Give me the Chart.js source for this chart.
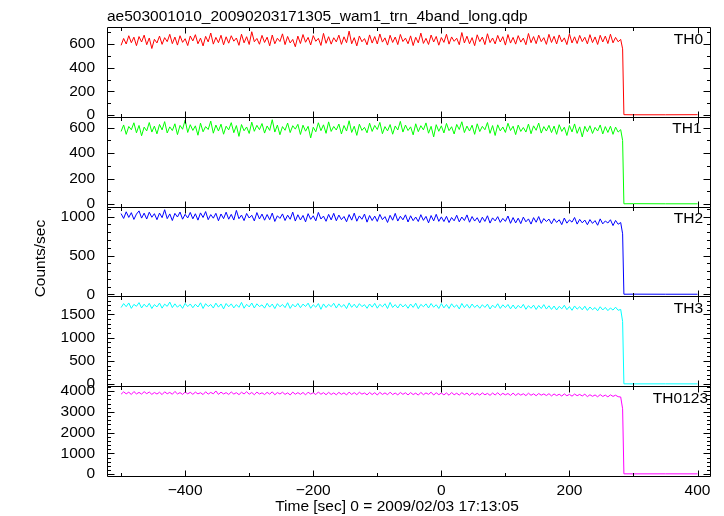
<!DOCTYPE html>
<html>
<head>
<meta charset="utf-8">
<script src="https://cdn.jsdelivr.net/npm/chart.js@4/dist/chart.umd.min.js"></script>
<style>
html, body { margin: 0; padding: 0; background: #fff; }
</style>
</head>
<body>
<canvas id="lc" width="724" height="516"></canvas>
<script>
const FONT = '"Liberation Sans", Arial, Helvetica, sans-serif';

const title = 'ae503001010_20090203171305_wam1_trn_4band_long.qdp';
const xLabel = 'Time [sec] 0 = 2009/02/03 17:13:05';
const yLabel = 'Counts/sec';
const bands = ['TH0', 'TH1', 'TH2', 'TH3', 'TH0123'];
const colors = ['#ff0000', '#00ff00', '#0000ff', '#00ffff', '#ff00ff'];

// 4 s bins from -500 s up to the drop, then a few bins after it
const times = [];
for (let t = -500; t <= 280; t += 4) times.push(t);
const tailTimes = [283, 285, 300, 350, 400];

const th0 = [
  590, 648, 601, 671, 612, 659, 587, 664, 618, 676, 595, 652, 563, 641,
  610, 668, 598, 655, 621, 683, 604, 660, 592, 671, 615, 646, 588, 669,
  627, 680, 603, 651, 585, 666, 619, 694, 600, 657, 612, 675, 594, 662,
  608, 671, 625, 652, 590, 684, 611, 663, 597, 705, 620, 648, 599, 674,
  614, 659, 586, 677, 603, 650, 622, 687, 596, 665, 610, 640, 578, 668,
  605, 681, 616, 657, 593, 672, 624, 649, 589, 691, 607, 663, 600, 654,
  619, 676, 598, 662, 612, 710, 603, 655, 585, 669, 620, 647, 594, 678,
  609, 664, 601, 686, 617, 653, 592, 675, 614, 660, 596, 682, 622, 651,
  603, 670, 588, 658, 611, 693, 606, 649, 597, 677, 618, 665, 591, 656,
  615, 684, 600, 661, 624, 650, 595, 698, 610, 667, 603, 655, 587, 679,
  621, 660, 596, 688, 613, 652, 602, 674, 618, 663, 592, 681, 609, 657,
  600, 672, 617, 651, 595, 690, 612, 664, 604, 676, 621, 655, 598, 683,
  614, 666, 601, 678, 619, 653, 596, 687, 610, 662, 605, 674, 621, 658,
  602, 680, 613, 661, 597, 675, 618, 668, 605, 684, 611, 657, 620, 640
];
const th0Tail = [560, 3, 2, 2, 3];

const th1 = [
  571, 622, 548, 610, 584, 639, 560, 618, 537, 605, 575, 641, 566, 613,
  552, 626, 583, 648, 559, 607, 578, 631, 546, 618, 588, 660, 563, 624,
  579, 615, 541, 636, 568, 609, 586, 652, 557, 621, 574, 628, 549, 612,
  583, 640, 561, 617, 532, 625, 576, 606, 555, 644, 572, 619, 585, 633,
  558, 614, 579, 663, 566, 621, 545, 609, 580, 637, 562, 616, 589, 627,
  547, 620, 573, 611, 520, 604, 568, 639, 577, 623, 556, 646, 571, 610,
  582, 629, 551, 617, 574, 655, 563, 612, 540, 628, 579, 603, 560, 636,
  571, 618, 586, 642, 553, 609, 575, 625, 549, 614, 582, 650, 566, 621,
  578, 607, 544, 631, 569, 616, 583, 638, 557, 611, 528, 624, 572, 615,
  559, 634, 577, 608, 551, 626, 586, 647, 562, 613, 574, 620, 548, 631,
  570, 611, 584, 641, 556, 617, 539, 623, 575, 606, 563, 635, 578, 612,
  546, 621, 571, 602, 566, 629, 553, 615, 580, 637, 558, 609, 574, 619,
  562, 613, 548, 624, 571, 604, 539, 618, 567, 630, 556, 607, 528, 611,
  569, 616, 555, 603, 574, 622, 551, 609, 563, 612, 548, 605, 566, 585
];
const th1Tail = [500, 2, 3, 2, 2];

const th2 = [
  1040, 978, 1063, 991, 1052, 965, 1034, 1075, 982, 1046, 970, 1058, 993, 1039,
  962, 1047, 988, 1090, 975, 1036, 951, 1043, 996, 1060, 968, 1031, 984, 1055,
  973, 1038, 956, 1049, 990, 1066, 962, 1027, 981, 1044, 948, 1035, 975, 1058,
  968, 1030, 957, 1081, 974, 1021, 950, 1042, 983, 1019, 946, 1053, 971, 1034,
  955, 1028, 962, 1047, 939, 1012, 978, 1036, 951, 1020, 967, 1059, 944, 1025,
  958, 1016, 934, 1039, 966, 1012, 947, 1055, 970, 1008, 941, 1030, 959, 1044,
  948, 1021, 962, 1003, 935, 1027, 956, 1046, 942, 1010, 967, 1034, 930, 1015,
  951, 1008, 939, 1029, 962, 1001, 926, 1018, 955, 1043, 944, 1006, 960, 1024,
  932, 1012, 949, 996, 938, 1026, 953, 1004, 921, 1015, 946, 1031, 940, 998,
  938, 1005, 925, 990, 947, 1019, 934, 996, 951, 1023, 929, 1002, 944, 987,
  922, 994, 939, 1012, 918, 985, 946, 1001, 927, 978, 940, 1009, 915, 989,
  920, 981, 911, 995, 934, 972, 905, 988, 929, 1002, 915, 976, 938, 969,
  909, 974, 926, 961, 898, 983, 917, 959, 930, 990, 905, 966, 921, 957,
  897, 963, 914, 950, 890, 972, 908, 945, 919, 961, 886, 952, 903, 925
];
const th2Tail = [780, 3, 4, 3, 3];

const th3 = [
  1650, 1735, 1668, 1749, 1632, 1718, 1677, 1756, 1641, 1722, 1660, 1741, 1629, 1713,
  1664, 1746, 1637, 1724, 1675, 1768, 1648, 1730, 1656, 1712, 1633, 1739, 1670, 1727,
  1645, 1721, 1661, 1752, 1630, 1734, 1672, 1716, 1639, 1745, 1658, 1727, 1621, 1737,
  1667, 1729, 1642, 1714, 1654, 1761, 1635, 1720, 1663, 1748, 1640, 1731, 1671, 1708,
  1637, 1742, 1659, 1725, 1628, 1733, 1666, 1716, 1648, 1754, 1631, 1720, 1661, 1739,
  1646, 1724, 1672, 1745, 1634, 1711, 1657, 1736, 1612, 1728, 1650, 1719, 1668, 1743,
  1639, 1730, 1660, 1715, 1627, 1750, 1655, 1722, 1644, 1734, 1669, 1712, 1633, 1726,
  1658, 1741, 1636, 1719, 1665, 1732, 1629, 1760, 1651, 1713, 1640, 1728, 1662, 1717,
  1634, 1726, 1653, 1744, 1625, 1718, 1666, 1729, 1641, 1737, 1657, 1711, 1630, 1735,
  1643, 1716, 1629, 1731, 1655, 1707, 1620, 1738, 1648, 1719, 1636, 1725, 1651, 1704,
  1634, 1711, 1652, 1723, 1618, 1701, 1645, 1732, 1630, 1709, 1649, 1716, 1622, 1705,
  1621, 1697, 1639, 1718, 1612, 1691, 1633, 1702, 1608, 1694, 1628, 1713, 1617, 1688,
  1610, 1683, 1597, 1676, 1622, 1699, 1604, 1671, 1590, 1684, 1615, 1668, 1601, 1679,
  1588, 1662, 1604, 1649, 1580, 1667, 1597, 1653, 1583, 1641, 1595, 1658, 1590, 1610
];
const th3Tail = [1350, 6, 5, 6, 5];

const th0123 = [
  3855, 3968, 3872, 3951, 3840, 3983, 3867, 3942, 3858, 3976, 3879, 3959, 3846, 3937,
  3862, 3949, 3835, 3970, 3874, 3941, 3851, 3988, 3866, 3932, 3843, 3961, 3870, 3946,
  3848, 3955, 3869, 3927, 3836, 3972, 3857, 3940, 3872, 4010, 3845, 3953, 3864, 3931,
  3841, 3962, 3859, 3929, 3833, 3948, 3866, 3975, 3852, 3937, 3828, 3957, 3861, 3924,
  3838, 3944, 3855, 3969, 3826, 3935, 3862, 3950, 3843, 3921, 3817, 3956, 3850, 3931,
  3846, 3938, 3822, 3951, 3859, 3926, 3835, 3960, 3851, 3929, 3829, 3945, 3841, 3917,
  3826, 3943, 3848, 3921, 3819, 3955, 3844, 3930, 3832, 3948, 3856, 3916, 3823, 3939,
  3837, 3928, 3815, 3946, 3842, 3919, 3829, 3953, 3834, 3912, 3822, 3937, 3846, 3924,
  3818, 3931, 3836, 3907, 3811, 3942, 3829, 3918, 3845, 3950, 3813, 3926, 3831, 3911,
  3822, 3915, 3804, 3936, 3827, 3902, 3812, 3929, 3834, 3908, 3799, 3921, 3819, 3896,
  3806, 3917, 3825, 3893, 3798, 3911, 3817, 3925, 3803, 3896, 3821, 3889, 3795, 3907,
  3793, 3891, 3809, 3877, 3786, 3902, 3801, 3874, 3781, 3889, 3806, 3868, 3790, 3880,
  3771, 3866, 3787, 3852, 3764, 3870, 3779, 3846, 3759, 3861, 3782, 3843, 3768, 3855,
  3737, 3829, 3751, 3818, 3730, 3836, 3745, 3811, 3726, 3823, 3748, 3806, 3733, 3720
];
const th0123Tail = [3150, 14, 13, 14, 13];

const series = [th0.concat(th0Tail), th1.concat(th1Tail), th2.concat(th2Tail), th3.concat(th3Tail), th0123.concat(th0123Tail)];
const allTimes = times.concat(tailTimes);

// tick labels
const xTicks = [-400, -200, 0, 200, 400];
const yTicks = [
  [0, 200, 400, 600],
  [0, 200, 400, 600],
  [0, 500, 1000],
  [0, 500, 1000, 1500],
  [0, 1000, 2000, 3000, 4000]
];

// axis ranges and minor tick spacing per panel
const yMin = [-15, -20, -25, -45, -90];
const yMax = [745, 686, 1130, 1890, 4240];
const yMinor = [100, 100, 100, 100, 200];

const ids = ['y0', 'y1', 'y2', 'y3', 'y4'];
const labelRight = [703, 701.5, 703, 703, 708];

const tickFont = { family: FONT, size: 15.5 };

const scales = {
  x: {
    type: 'linear', position: 'bottom', min: -522, max: 421,
    afterFit: s => { s.height = 40; },
    afterBuildTicks: s => { s.ticks = xTicks.map(v => ({ value: v })); },
    grid: { display: false, drawTicks: false },
    border: { display: false },
    ticks: {
      autoSkip: false, padding: 5, maxRotation: 0,
      color: '#000', font: tickFont,
      callback: v => String(v).replace('-', '\u2212')
    }
  }
};
ids.forEach((id, i) => {
  scales[id] = {
    type: 'linear', position: 'left', stack: 'panels', stackWeight: 1, weight: 5 - i,
    min: yMin[i], max: yMax[i],
    afterFit: s => { s.width = 107; },
    afterBuildTicks: s => { s.ticks = yTicks[i].map(v => ({ value: v })); },
    grid: { display: false, drawTicks: false },
    border: { display: false },
    ticks: {
      autoSkip: false, padding: 12,
      color: '#000', font: tickFont,
      callback: v => String(v)
    }
  };
});

const qdpFrame = {
  id: 'qdpFrame',
  afterDraw(chart) {
    const ctx = chart.ctx;
    const ca = chart.chartArea;
    const xs = chart.scales.x;
    const L = Math.round(ca.left) + 0.5, R = Math.round(ca.right) - 0.5;
    ctx.save();
    ctx.strokeStyle = '#000';
    ctx.lineWidth = 1;
    ids.forEach((id, i) => {
      const s = chart.scales[id];
      const top = Math.round(s.top) + 0.5, bot = Math.round(s.bottom) + 0.5;
      ctx.beginPath();
      ctx.rect(L, top, R - L, bot - top);
      for (let v = Math.ceil(s.min / yMinor[i]) * yMinor[i]; v <= s.max; v += yMinor[i]) {
        const y = Math.round(s.getPixelForValue(v)) + 0.5;
        const len = yTicks[i].includes(v) ? 7 : 3.5;
        ctx.moveTo(L, y); ctx.lineTo(L + len, y);
        ctx.moveTo(R, y); ctx.lineTo(R - len, y);
      }
      for (let v = -500; v <= 400; v += 100) {
        const x = Math.round(xs.getPixelForValue(v)) + 0.5;
        const len = xTicks.includes(v) ? 6 : 3.5;
        ctx.moveTo(x, top); ctx.lineTo(x, top + len);
        ctx.moveTo(x, bot); ctx.lineTo(x, bot - len);
      }
      ctx.stroke();

      ctx.fillStyle = '#000';
      ctx.font = '15.5px ' + FONT;
      ctx.textAlign = 'right';
      ctx.textBaseline = 'alphabetic';
      ctx.fillText(bands[i], labelRight[i], s.top + 16.5);
    });

    ctx.fillStyle = '#000';
    ctx.font = '15.5px ' + FONT;
    ctx.textBaseline = 'alphabetic';
    ctx.textAlign = 'left';
    ctx.fillText(title, 107, 20.7);
    ctx.textAlign = 'center';
    ctx.fillText(xLabel, 397, 511);
    ctx.translate(44.5, 258.6);
    ctx.rotate(-Math.PI / 2);
    ctx.fillText(yLabel, 0, 0);
    ctx.restore();
  }
};

new Chart(document.getElementById('lc'), {
  type: 'line',
  data: {
    datasets: series.map((vals, i) => ({
      label: bands[i],
      data: allTimes.map((t, k) => ({ x: t, y: vals[k] })),
      xAxisID: 'x',
      yAxisID: ids[i],
      borderColor: colors[i],
      backgroundColor: colors[i],
      borderWidth: 1,
      pointRadius: 0,
      tension: 0,
      fill: false
    }))
  },
  options: {
    responsive: false,
    animation: false,
    events: [],
    layout: { padding: { left: 0, right: 13, top: 27, bottom: 0 } },
    plugins: { legend: { display: false }, title: { display: false }, tooltip: { enabled: false } },
    scales: scales
  },
  plugins: [qdpFrame]
});
</script>
</body>
</html>
